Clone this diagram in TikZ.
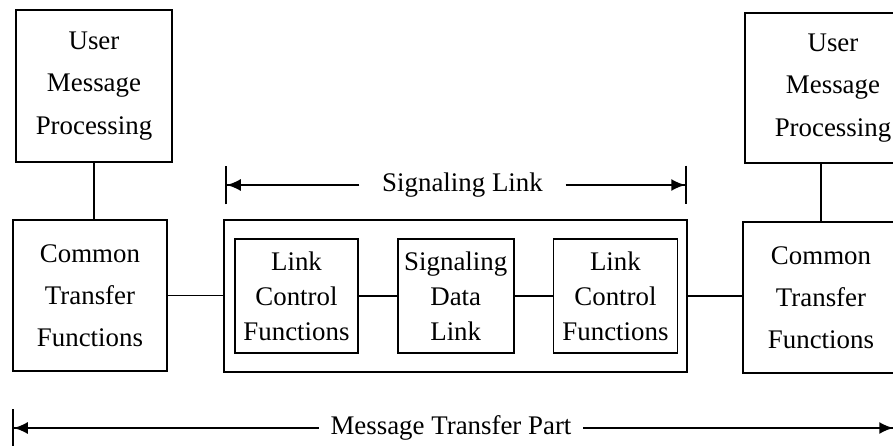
\documentclass[tikz,border=0pt]{standalone}
\usepackage{fontspec}
\setmainfont{Liberation Serif}
\usetikzlibrary{positioning}
\usetikzlibrary{arrows.meta}

\begin{document}
\begin{tikzpicture}[x=0.02cm, y=-0.02cm, line width=1pt,
    block/.style={draw, align=center, inner sep=0pt, font=\fontsize{15.3}{24}\selectfont},
    inblock/.style={draw, align=center, inner sep=0pt, minimum height=2.28cm, font=\fontsize{15.3}{20}\selectfont},
    span/.style={-{Latex[length=2.8mm,width=2.4mm]Bar[width=7.8mm]}},
    tag/.style={font=\fontsize{15.3}{18}\selectfont, inner ysep=0pt}]
    \clip (0,0) rectangle (893,446);

    \node(umpl) [block, minimum width=3.12cm, minimum height=3.04cm] at (94,86) {User\\Message\\Processing};
    \node(ctfl) [block, minimum width=3.08cm, minimum height=3.02cm] at (90,295.5) {Common\\Transfer\\Functions};
    \node(slbox) [draw, minimum width=9.26cm, minimum height=3.04cm] at (455.5,296) {};
    \node(lcfa) [inblock, minimum width=2.46cm] at (296.5,296) {Link\\Control\\Functions};
    \node(sdl) [inblock, minimum width=2.32cm, right = 0.76cm of lcfa] {Signaling\\Data\\Link};
    \node(lcfb) [inblock, minimum width=2.48cm, right = 0.76cm of sdl] {Link\\Control\\Functions};
    \node(ctfr) [block, minimum width=3.12cm, minimum height=3.02cm] at (821,297.5) {Common\\Transfer\\Functions};
    \node(umpr) [block, minimum width=3.52cm, minimum height=3.0cm] at (833,88) {User\\Message\\Processing};

    \node(sltxt) [tag, inner xsep=0.44cm] at (462.5,185) {Signaling Link};
    \coordinate(slleft) at (225,185);
    \coordinate(slright) at (687,185);
    \node(mtptxt) [tag, inner xsep=0.22cm] at (451,428) {Message Transfer Part};
    \coordinate(mtpleft) at (12,428);
    \coordinate(mtpright) at (895,428);

    \draw (umpl.south) -- (umpl.south |- ctfl.north);
    \draw (ctfr.north) -- (ctfr.north |- umpr.south);
    \draw (ctfl.east) -- (ctfl.east -| slbox.west);
    \draw (lcfa) -- (sdl);
    \draw (sdl) -- (lcfb);
    \draw (slbox.east) -- (slbox.east -| ctfr.west);

    \draw [span] (sltxt) -- (slleft);
    \draw [span] (sltxt) -- (slright);
    \draw [span] (mtptxt) -- (mtpleft);
    \draw [span] (mtptxt) -- (mtpright);
  \end{tikzpicture}
\end{document}
